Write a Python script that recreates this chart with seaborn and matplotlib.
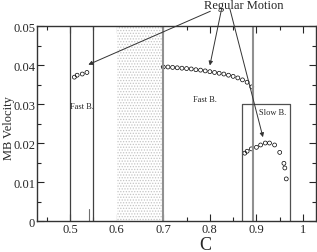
import numpy as np
import pandas as pd
import matplotlib
matplotlib.use("Agg")
import matplotlib.pyplot as plt
import seaborn as sns
from matplotlib.ticker import MultipleLocator

# MB velocity vs C, three regular-motion branches
fast1_c = [0.509, 0.515, 0.526, 0.536]
fast1_v = [0.0369, 0.0374, 0.0377, 0.0381]

fast2_c = [0.70, 0.71, 0.72, 0.73, 0.74, 0.75, 0.76, 0.77, 0.78, 0.79,
           0.80, 0.81, 0.82, 0.83, 0.84, 0.85, 0.86, 0.87, 0.88, 0.89]
fast2_v = [0.0395, 0.0395, 0.0394, 0.0393, 0.0392, 0.0391, 0.0390, 0.0388, 0.0387, 0.0385,
           0.0383, 0.0381, 0.0379, 0.0377, 0.0374, 0.0371, 0.0367, 0.0362, 0.0356, 0.0344]

slow_c = [0.875, 0.880, 0.889, 0.900, 0.909, 0.919, 0.928, 0.939, 0.950, 0.959, 0.961, 0.964]
slow_v = [0.0174, 0.0179, 0.0185, 0.0189, 0.0195, 0.0200, 0.0200, 0.0195, 0.0176, 0.0148, 0.0136, 0.0108]

df = pd.concat([
    pd.DataFrame({"C": fast1_c, "V": fast1_v, "branch": "fast1"}),
    pd.DataFrame({"C": fast2_c, "V": fast2_v, "branch": "fast2"}),
    pd.DataFrame({"C": slow_c, "V": slow_v, "branch": "slow"}),
])

sns.set_style("ticks")
plt.rcParams["font.family"] = ["Liberation Serif", "DejaVu Serif"]
plt.rcParams["hatch.linewidth"] = 0.6

fig = plt.figure(figsize=(3.17, 2.53), dpi=100)
ax = fig.add_axes([0.117, 0.1225, 0.88, 0.7705])

# stippled band
ax.axvspan(0.6, 0.7, facecolor="white", edgecolor="#c4c4c4", hatch="......", linewidth=0)

# boundary lines
for xv in [0.5, 0.55]:
    ax.axvline(xv, color="#404040", lw=0.9)
for xv in [0.7, 0.893]:
    ax.axvline(xv, color="#909090", lw=1.5)
ax.plot([0.869, 0.869, 0.972, 0.972], [0, 0.03, 0.03, 0], color="#505050", lw=0.9)
ax.plot([0.541, 0.541], [0, 0.003], color="#707070", lw=0.8)

sns.scatterplot(data=df, x="C", y="V", marker="o", s=8, facecolor="none",
                edgecolor="black", linewidth=0.5, legend=False, ax=ax)

ax.text(0.526, 0.0295, "Fast B.", fontsize=6, ha="center", va="center")
ax.text(0.79, 0.0313, "Fast B.", fontsize=6, ha="center", va="center")
ax.text(0.934, 0.028, "Slow B.", fontsize=6, ha="center", va="center")

ax.text(0.872, 0.0553, "Regular Motion", fontsize=9, ha="center", va="center", clip_on=False)
arrows = [((0.801, 0.0538), (0.539, 0.0401)),
          ((0.825, 0.0543), (0.800, 0.0399)),
          ((0.843, 0.0544), (0.914, 0.0215))]
for start, end in arrows:
    ax.annotate("", xy=end, xytext=start, annotation_clip=False,
                arrowprops=dict(arrowstyle="-|>", color="#333333", lw=0.7,
                                mutation_scale=6, shrinkA=0, shrinkB=0))

ax.set_xlim(0.429, 1.028)
ax.set_ylim(0, 0.05)
ax.xaxis.set_minor_locator(MultipleLocator(0.05))
ax.yaxis.set_minor_locator(MultipleLocator(0.005))
ax.set_xticks([0.5, 0.6, 0.7, 0.8, 0.9, 1.0])
ax.set_xticklabels(["0.5", "0.6", "0.7", "0.8", "0.9", "1"])
ax.set_yticks([0, 0.01, 0.02, 0.03, 0.04, 0.05])
ax.set_yticklabels(["0", "0.01", "0.02", "0.03", "0.04", "0.05"])
ax.tick_params(which="both", direction="in", top=True, right=True, labelsize=9, pad=1.5)
ax.tick_params(which="major", length=5, width=0.8)
ax.tick_params(which="minor", length=3, width=0.8)
for sp in ax.spines.values():
    sp.set_linewidth(1.0)
    sp.set_color("#333333")

ax.set_xlabel("")
ax.set_ylabel("")
fig.text(0.647, 0.03, "C", fontsize=13, ha="center", va="center")
fig.text(0.028, 0.494, "MB Velocity", fontsize=9, ha="center", va="center", rotation=90)

fig.savefig("out.png", dpi=100)
